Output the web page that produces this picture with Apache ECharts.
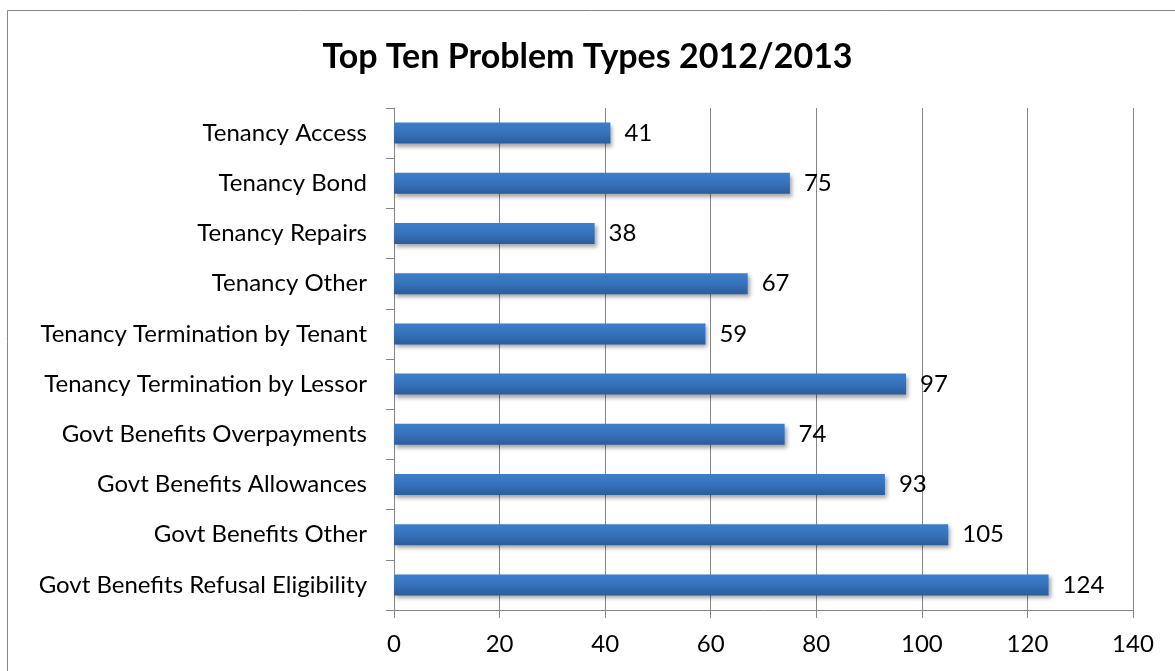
<!DOCTYPE html>
<html>
<head>
<meta charset="utf-8">
<script src="https://cdn.jsdelivr.net/npm/echarts@6/dist/echarts.min.js"></script>
<style>
html,body{margin:0;padding:0;background:#fff;}
#c{width:1175px;height:671px;}
</style>
</head>
<body>
<div id="c"></div>
<script>
const categories = [
  "Govt Benefits Refusal Eligibility",
  "Govt Benefits Other",
  "Govt Benefits Allowances",
  "Govt Benefits Overpayments",
  "Tenancy Termination by Lessor",
  "Tenancy Termination by Tenant",
  "Tenancy Other",
  "Tenancy Repairs",
  "Tenancy Bond",
  "Tenancy Access"
];
const values = [124, 105, 93, 74, 97, 59, 67, 38, 75, 41];
const titleText = "Top Ten Problem Types 2012/2013";

const FONT = "Lato, 'Open Sans', sans-serif";
const chart = echarts.init(document.getElementById('c'), null, {renderer: 'canvas'});
chart.setOption({
  backgroundColor: '#fff',
  animation: false,
  title: {
    text: titleText,
    left: 'center',
    top: 35,
    textStyle: {fontFamily: FONT, fontSize: 34, fontWeight: 'bold', color: '#000'}
  },
  graphic: [{
    type: 'rect',
    shape: {x: 7.5, y: 10.5, width: 1200, height: 700},
    style: {fill: 'none', stroke: '#888', lineWidth: 1},
    silent: true
  }],
  grid: {left: 394, right: 42, top: 108, bottom: 61, containLabel: false},
  xAxis: {
    type: 'value',
    min: 0, max: 140, interval: 20,
    axisLine: {show: true, lineStyle: {color: '#868686', width: 1}},
    axisTick: {show: true, length: 8, lineStyle: {color: '#868686'}},
    axisLabel: {fontFamily: FONT, fontSize: 24, color: '#000', margin: 22},
    splitLine: {show: true, lineStyle: {color: '#868686', width: 1}}
  },
  yAxis: {
    type: 'category',
    data: categories,
    axisLine: {show: true, lineStyle: {color: '#868686', width: 1}},
    axisTick: {show: true, length: 8, alignWithLabel: false, lineStyle: {color: '#868686'}},
    axisLabel: {fontFamily: FONT, fontSize: 24, color: '#000', margin: 27},
    splitLine: {show: false}
  },
  series: [{
    type: 'bar',
    data: values,
    barWidth: 21,
    itemStyle: {
      color: new echarts.graphic.LinearGradient(0, 0, 0, 1, [
        {offset: 0, color: '#3d7fcc'},
        {offset: 0.5, color: '#3672bb'},
        {offset: 1, color: '#2c5c9a'}
      ]),
      shadowColor: 'rgba(0,0,0,0.35)',
      shadowBlur: 4,
      shadowOffsetX: 2,
      shadowOffsetY: 3
    },
    label: {
      show: true,
      position: 'right',
      distance: 14,
      fontFamily: FONT,
      fontSize: 24,
      color: '#000'
    }
  }]
});
</script>
</body>
</html>
